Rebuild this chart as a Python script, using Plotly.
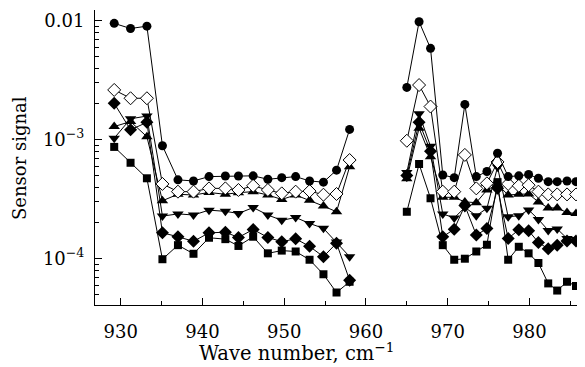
import plotly.graph_objects as go

# Wave numbers (cm^-1) of the two measured bands
x_left = [929.2, 931.2, 933.2, 935.1, 937.0, 938.9, 940.8, 942.8, 944.4, 946.2,
          948.0, 949.7, 951.4, 953.1, 954.8, 956.4, 958.0]
x_right = [965.0, 966.5, 967.9, 969.4, 970.8, 972.1, 973.5, 974.8, 976.1, 977.4,
           978.7, 979.9, 981.1, 982.3, 983.4, 984.6, 985.7, 987.6]

circle_left = [9.5e-3, 8.6e-3, 9.0e-3, 8.9e-4, 4.6e-4, 4.5e-4, 4.9e-4, 4.95e-4, 4.95e-4,
               4.97e-4, 4.65e-4, 4.8e-4, 4.9e-4, 4.5e-4, 4.4e-4, 5.55e-4, 1.22e-3]
circle_right = [2.75e-3, 9.8e-3, 5.86e-3, 5.05e-4, 4.8e-4, 1.98e-3, 4.9e-4, 5.4e-4, 7.7e-4,
                4.9e-4, 4.97e-4, 5.1e-4, 4.74e-4, 4.44e-4, 4.44e-4, 4.5e-4, 4.44e-4, 4.4e-4]

odiam_left = [2.62e-3, 2.23e-3, 2.23e-3, 4.25e-4, 3.66e-4, 3.66e-4, 3.9e-4, 3.9e-4, 3.78e-4,
              4.1e-4, 3.78e-4, 3.54e-4, 3.66e-4, 3.7e-4, 3.45e-4, 3.5e-4, 6.75e-4]
odiam_right = [9.8e-4, 2.88e-3, 1.9e-3, 3.66e-4, 3.66e-4, 7.45e-4, 3.9e-4, 4.3e-4, 6.5e-4,
               4.25e-4, 4.1e-4, 4.15e-4, 3.66e-4, 3.47e-4, 3.47e-4, 3.47e-4, 3.47e-4, 3.45e-4]

up_left = [1.29e-3, 1.42e-3, 1.06e-3, 3.07e-4, 3.48e-4, 3.43e-4, 3.6e-4, 3.48e-4, 3.59e-4,
           3.66e-4, 3.43e-4, 3.15e-4, 3.43e-4, 3.1e-4, 2.77e-4, 2.48e-4, 5.93e-4]
up_right = [4.7e-4, 1.25e-3, 7.2e-4, 3.28e-4, 3.28e-4, 3.0e-4, 2.96e-4, 3.78e-4, 4.2e-4,
            3.43e-4, 3.48e-4, 3.5e-4, 3.0e-4, 2.67e-4, 2.67e-4, 2.44e-4, 2.4e-4, 2.38e-4]

down_left = [1.03e-3, 1.5e-3, 1.58e-3, 2.28e-4, 2.38e-4, 2.33e-4, 2.56e-4, 2.5e-4, 2.4e-4,
             2.69e-4, 2.33e-4, 2.1e-4, 2.22e-4, 1.98e-4, 1.80e-4, 1.38e-4, 1.04e-4]
down_right = [5.3e-4, 1.65e-3, 8.8e-4, 2.38e-4, 2.2e-4, 2.7e-4, 2.3e-4, 2.65e-4, 5.9e-4,
              2.25e-4, 2.3e-4, 2.57e-4, 2.14e-4, 1.73e-4, 1.78e-4, 1.48e-4, 1.45e-4, 1.44e-4]

fdiam_left = [2.02e-3, 1.21e-3, 1.4e-3, 1.65e-4, 1.53e-4, 1.40e-4, 1.65e-4, 1.67e-4, 1.51e-4,
              1.76e-4, 1.51e-4, 1.39e-4, 1.47e-4, 1.27e-4, 1.04e-4, 1.35e-4, 6.6e-5]
fdiam_right = [5.0e-4, 1.4e-3, 8.0e-4, 1.53e-4, 1.77e-4, 2.8e-4, 1.58e-4, 1.79e-4, 3.9e-4,
               1.48e-4, 1.75e-4, 1.72e-4, 1.37e-4, 1.21e-4, 1.30e-4, 1.41e-4, 1.41e-4, 1.40e-4]

square_left = [8.7e-4, 6.4e-4, 4.74e-4, 9.9e-5, 1.30e-4, 1.10e-4, 1.50e-4, 1.46e-4, 1.28e-4,
               1.53e-4, 1.11e-4, 1.17e-4, 1.15e-4, 9.8e-5, 7.4e-5, 5.2e-5, 6.4e-5]
square_right = [2.48e-4, 6.25e-4, 3.22e-4, 1.30e-4, 9.8e-5, 1.0e-4, 1.15e-4, 1.31e-4, 4.4e-4,
                9.8e-5, 1.26e-4, 1.11e-4, 9.2e-5, 6.2e-5, 5.4e-5, 6.4e-5, 5.9e-5, 5.9e-5]

x_ticks = [930, 940, 950, 960, 970, 980]
y_ticks = [1e-4, 1e-3, 1e-2]
y_ticktext = ["10<sup>\u22124</sup>", "10<sup>\u22123</sup>", "0.01"]

FONT = "DejaVu Serif"

series = [
    (square_left, square_right, "square", 8, "black"),
    (fdiam_left, fdiam_right, "diamond", 10, "black"),
    (down_left, down_right, "triangle-down", 10, "black"),
    (up_left, up_right, "triangle-up", 10, "black"),
    (odiam_left, odiam_right, "diamond-open", 10, "white"),
    (circle_left, circle_right, "circle", 9, "black"),
]

fig = go.Figure()
xs = x_left + [None] + x_right
for yl, yr, sym, size, fill in series:
    ys = yl + [None] + yr
    if sym == "diamond-open":
        marker = dict(symbol="diamond", size=size, color="white",
                      line=dict(color="black", width=1))
    else:
        marker = dict(symbol=sym, size=size, color="black",
                      line=dict(color="black", width=0))
    fig.add_trace(go.Scatter(x=xs, y=ys, mode="lines+markers",
                             line=dict(color="black", width=1),
                             marker=marker, showlegend=False))

minor_y = [v * 10 ** e for e in (-5, -4, -3) for v in range(2, 10)
           if 4.1e-5 < v * 10 ** e < 0.0123]

# page body has an 8px margin, so the figure is 8px smaller than the window
W, H = 577, 359
fig.update_layout(
    width=W, height=H,
    margin=dict(l=87, r=0, t=2, b=62),
    paper_bgcolor="white", plot_bgcolor="white",
    font=dict(family=FONT, size=18, color="black"),
    xaxis=dict(range=[926.85, 986.8], showline=True, linecolor="black", linewidth=1,
               ticks="inside", ticklen=7, tickwidth=1, tickcolor="black",
               tickvals=x_ticks, showgrid=False, zeroline=False,
               ticklabelstandoff=10,
               minor=dict(ticks="inside", ticklen=4, tickwidth=1, tickcolor="black",
                          tickvals=[935, 945, 955, 965, 975, 985], showgrid=False)),
    yaxis=dict(type="log", range=[-4.389, -1.91], showline=True, linecolor="black",
               linewidth=1, ticks="inside", ticklen=7, tickwidth=1, tickcolor="black",
               tickvals=y_ticks, ticktext=y_ticktext, showgrid=False, zeroline=False,
               ticklabelstandoff=6,
               minor=dict(ticks="inside", ticklen=4, tickwidth=1, tickcolor="black",
                          tickvals=minor_y, showgrid=False)),
    annotations=[
        dict(text="Wave number, cm<sup>\u22121</sup>", xref="paper", yref="paper",
             x=(296 - 95) / 490, y=0, yshift=-47, xanchor="center", yanchor="middle",
             showarrow=False, font=dict(family=FONT, size=19.5)),
        dict(text="Sensor signal", xref="paper", yref="paper", x=0, xshift=-76,
             y=(305 - 158) / 295, textangle=-90, xanchor="center", yanchor="middle",
             showarrow=False, font=dict(family=FONT, size=18)),
    ],
)

fig.write_html("out.html")
